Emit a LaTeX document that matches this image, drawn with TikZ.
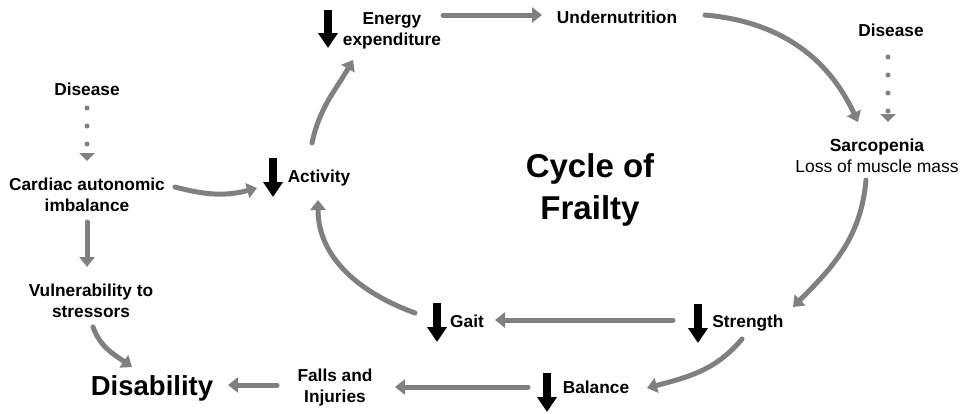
\documentclass[tikz,border=0pt]{standalone}
\usepackage{fontspec}
\setmainfont{Liberation Sans}
\usepackage{tikz}
\usepackage{xcolor}
\usetikzlibrary{arrows.meta}

\definecolor{linkgray}{RGB}{128,128,128}

\begin{document}
\begin{tikzpicture}[x=1pt,y=1pt,
  lbl/.style={font=\fontsize{17.3}{21}\selectfont\bfseries, align=center, inner sep=0pt},
  link/.style={draw=linkgray, line width=5pt, line cap=round, -{Triangle[length=10pt,width=15pt]}},
  hint/.style={draw=linkgray, line width=5pt, line cap=round, dash pattern=on 0pt off 18pt, -{Triangle[length=8pt,width=15pt]}},
  drop/.style={draw=black, line width=8pt, -{Triangle[length=15pt,width=19pt]}}]
  \useasboundingbox (0,0) rectangle (967,-413);

  % the cycle
  \node[lbl] (energy) at (392,-31) {Energy\\expenditure};
  \node[lbl] (undernut) at (617,-17) {Undernutrition};
  \node[lbl] (diseaseR) at (891,-30) {Disease};
  \node[lbl, font=\fontsize{17.5}{21}\selectfont] (sarco) at (877,-156) {\textbf{Sarcopenia}\\Loss of muscle mass};
  \node[lbl, font=\fontsize{33}{42}\selectfont\bfseries] (cycle) at (590,-190) {Cycle of\\Frailty};
  \node[lbl] (activity) at (319,-178) {Activity};
  \node[lbl] (strength) at (748,-323) {Strength};
  \node[lbl] (gait) at (467,-321) {Gait};
  \node[lbl] (balance) at (596,-387) {Balance};

  % left side
  \node[lbl] (diseaseL) at (87,-89) {Disease};
  \node[lbl] (cardiac) at (87,-195) {Cardiac autonomic\\imbalance};
  \node[lbl] (vuln) at (91,-301) {Vulnerability to\\stressors};
  \node[lbl] (falls) at (335,-388) {Falls and\\Injuries};
  \node[lbl, font=\fontsize{27.5}{33}\selectfont\bfseries] (disab) at (152,-388) {Disability};

  % decreases
  \draw[drop] ([shift={(-64,21)}]energy.center) -- ++(0,-38);
  \draw[drop] ([shift={(-46,20)}]activity.center) -- ++(0,-39);
  \draw[drop] ([shift={(-30,18)}]gait.center) -- ++(0,-39);
  \draw[drop] ([shift={(-50,19)}]strength.center) -- ++(0,-39);
  \draw[drop] ([shift={(-49,14)}]balance.center) -- ++(0,-39);

  \draw[link] ([shift={(-7,35)}]activity.center) to[out=78,in=240] ([shift={(-39,-29)}]energy.center);
  \draw[link] ([shift={(51,16)}]energy.center) -- ([shift={(-75,2)}]undernut.center);
  \draw[link] ([shift={(88,2)}]undernut.center) to[out=-5,in=115] ([shift={(-19,34)}]sarco.center);
  \draw[hint] ([shift={(-3,-27)}]diseaseR.center) -- ([shift={(11,34)}]sarco.center);
  \draw[link] ([shift={(-11,-24)}]sarco.center) to[out=-95,in=45] ([shift={(45,16)}]strength.center);
  \draw[link] ([shift={(-75,3)}]strength.center) -- ([shift={(28,1)}]gait.center);
  \draw[link] ([shift={(-6,-16)}]strength.center) to[out=-130,in=15] ([shift={(51,-1)}]balance.center);
  \draw[link] ([shift={(-52,8)}]gait.center) to[out=160,in=-90] ([shift={(-1,-22)}]activity.center);
  \draw[link] ([shift={(-68,0)}]balance.center) -- ([shift={(60,1)}]falls.center);
  \draw[link] ([shift={(-58,3)}]falls.center) -- ([shift={(76,3)}]disab.center);

  \draw[hint] ([shift={(0,-19)}]diseaseL.center) -- ([shift={(0,34)}]cardiac.center);
  \draw[link] ([shift={(88,8)}]cardiac.center) to[out=-15,in=195] ([shift={(-62,-10)}]activity.center);
  \draw[link] ([shift={(0,-27)}]cardiac.center) -- ([shift={(-4,34)}]vuln.center);
  \draw[link] ([shift={(2,-26)}]vuln.center) to[out=-70,in=145] ([shift={(-20,21)}]disab.center);
\end{tikzpicture}
\end{document}
